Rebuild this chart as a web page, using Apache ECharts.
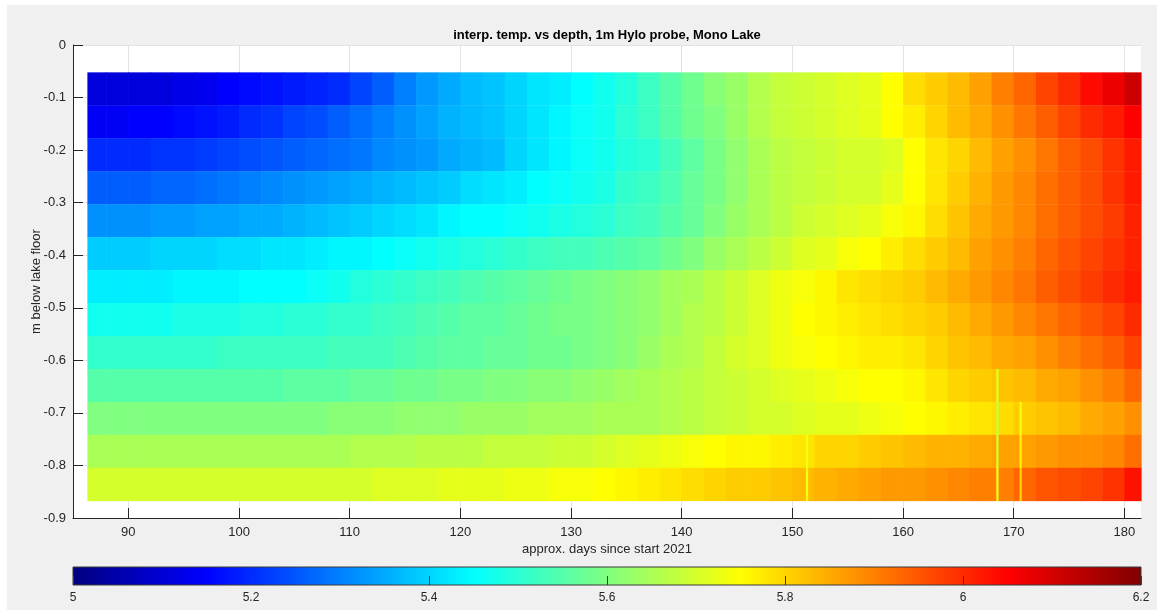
<!DOCTYPE html>
<html><head><meta charset="utf-8">
<script src="https://cdn.jsdelivr.net/npm/echarts@6/dist/echarts.min.js"></script>
<style>html,body{margin:0;padding:0;background:#fff}#c{width:1157px;height:610px}</style>
</head><body><div id="c"></div>
<script>
// ---- data ----
const days = [87,89,91,93,95,97,99,101,103,105,107,109,111,113,115,117,119,121,123,125,127,129,131,133,135,137,139,141,143,145,147,149,151,153,155,157,159,161,163,165,167,169,171,173,175,177,179,181];
const dataStart = 86.3, dataEnd = 181.5;
const depths = [-0.0834,-0.1461,-0.2088,-0.2715,-0.3342,-0.3969,-0.4596,-0.5223,-0.585,-0.6477,-0.7104,-0.7731,-0.8358];
const xTicks = [90,100,110,120,130,140,150,160,170,180];
const colorbarRange = [5, 6.2];

const row1 = [5.11,5.11,5.11,5.11,5.12,5.13,5.15,5.16,5.17,5.18,5.19,5.2, 5.23,5.26,5.3,5.33,5.35,5.37,5.38,5.4,5.42,5.43,5.45,5.47, 5.49,5.52,5.55,5.58,5.61,5.63,5.66,5.68,5.69,5.7,5.71,5.72, 5.75,5.79,5.81,5.83,5.86,5.9,5.93,5.97,6.0,6.04,6.07,6.11];
const row2 = [5.14,5.14,5.15,5.15,5.16,5.17,5.18,5.2,5.21,5.23,5.24,5.26, 5.28,5.3,5.32,5.34,5.36,5.37,5.38,5.4,5.42,5.44,5.46,5.47, 5.5,5.52,5.55,5.58,5.6,5.63,5.66,5.68,5.69,5.7,5.71,5.72, 5.75,5.77,5.8,5.83,5.85,5.88,5.91,5.94,5.97,6.0,6.02,6.05];
const row3 = [5.2,5.2,5.2,5.21,5.21,5.22,5.23,5.24,5.25,5.26,5.27,5.28, 5.29,5.31,5.32,5.33,5.35,5.36,5.37,5.4,5.42,5.44,5.46,5.47, 5.49,5.5,5.53,5.56,5.59,5.62,5.65,5.67,5.68,5.69,5.7,5.7, 5.71,5.75,5.78,5.8,5.83,5.86,5.88,5.91,5.94,5.96,5.99,6.02];
const row4 = [5.26,5.26,5.26,5.27,5.27,5.28,5.29,5.3,5.31,5.32,5.33,5.34, 5.35,5.36,5.37,5.38,5.39,5.41,5.42,5.43,5.45,5.46,5.47,5.48, 5.51,5.52,5.54,5.57,5.59,5.62,5.65,5.67,5.68,5.69,5.7,5.7, 5.72,5.75,5.78,5.81,5.84,5.87,5.89,5.92,5.94,5.96,5.99,6.02];
const row5 = [5.32,5.32,5.32,5.33,5.33,5.34,5.34,5.35,5.35,5.36,5.37,5.38, 5.39,5.4,5.41,5.42,5.44,5.45,5.45,5.46,5.47,5.48,5.49,5.5, 5.52,5.53,5.55,5.57,5.6,5.63,5.65,5.67,5.69,5.7,5.71,5.72, 5.74,5.76,5.79,5.82,5.85,5.87,5.89,5.92,5.94,5.96,5.98,6.01];
const row6 = [5.39,5.39,5.39,5.4,5.4,5.4,5.41,5.41,5.42,5.42,5.43,5.44, 5.44,5.45,5.46,5.47,5.48,5.49,5.5,5.51,5.52,5.53,5.53,5.54, 5.55,5.56,5.58,5.6,5.63,5.65,5.67,5.69,5.71,5.72,5.74,5.75, 5.77,5.79,5.81,5.83,5.86,5.88,5.9,5.93,5.95,5.97,5.99,6.01];
const row7 = [5.43,5.43,5.43,5.43,5.44,5.44,5.44,5.45,5.45,5.45,5.46,5.47, 5.49,5.5,5.51,5.52,5.53,5.54,5.55,5.56,5.57,5.58,5.59,5.6, 5.61,5.62,5.64,5.65,5.67,5.69,5.71,5.73,5.74,5.76,5.78,5.79, 5.8,5.81,5.83,5.85,5.87,5.89,5.91,5.94,5.96,5.98,6.0,6.02];
const row8 = [5.47,5.47,5.47,5.47,5.48,5.48,5.48,5.49,5.49,5.5,5.5,5.51, 5.51,5.52,5.53,5.54,5.55,5.56,5.56,5.57,5.58,5.59,5.59,5.6, 5.61,5.62,5.64,5.66,5.67,5.69,5.71,5.73,5.75,5.76,5.77,5.78, 5.79,5.8,5.81,5.83,5.85,5.87,5.89,5.91,5.93,5.95,5.97,6.0];
const row9 = [5.51,5.51,5.51,5.51,5.51,5.51,5.52,5.52,5.52,5.52,5.52,5.53, 5.53,5.53,5.54,5.55,5.56,5.56,5.57,5.57,5.58,5.58,5.59,5.6, 5.61,5.63,5.65,5.66,5.68,5.7,5.71,5.73,5.74,5.75,5.76,5.77, 5.77,5.78,5.8,5.82,5.83,5.85,5.86,5.88,5.9,5.92,5.94,5.97];
const row10 = [5.55,5.55,5.55,5.55,5.55,5.55,5.55,5.55,5.55,5.56,5.56,5.56, 5.57,5.57,5.58,5.58,5.59,5.59,5.6,5.6,5.61,5.61,5.62,5.63, 5.64,5.65,5.66,5.67,5.68,5.69,5.7,5.71,5.72,5.73,5.74,5.75, 5.75,5.76,5.78,5.8,5.81,5.82,5.83,5.85,5.86,5.88,5.9,5.93];
const row11 = [5.6,5.6,5.6,5.6,5.6,5.6,5.6,5.6,5.6,5.6,5.6,5.61, 5.61,5.61,5.62,5.62,5.62,5.63,5.63,5.63,5.64,5.64,5.64,5.65, 5.65,5.65,5.66,5.67,5.68,5.69,5.7,5.7,5.71,5.72,5.72,5.73, 5.74,5.75,5.76,5.77,5.78,5.79,5.81,5.82,5.83,5.85,5.86,5.88];
const row12 = [5.65,5.65,5.65,5.65,5.65,5.65,5.65,5.65,5.65,5.65,5.65,5.65, 5.66,5.66,5.66,5.67,5.67,5.67,5.68,5.68,5.68,5.69,5.69,5.7, 5.71,5.72,5.73,5.74,5.75,5.76,5.76,5.77,5.78,5.8,5.8,5.81, 5.82,5.83,5.84,5.84,5.85,5.86,5.86,5.87,5.88,5.88,5.89,5.92];
const row13 = [5.7,5.7,5.7,5.7,5.7,5.7,5.7,5.7,5.7,5.7,5.7,5.7, 5.7,5.71,5.71,5.71,5.72,5.72,5.72,5.73,5.73,5.74,5.74,5.75, 5.76,5.77,5.78,5.79,5.8,5.81,5.81,5.82,5.83,5.84,5.85,5.86, 5.87,5.87,5.88,5.89,5.9,5.9,5.93,5.95,5.96,5.97,5.99,6.03];
const rows = [row1,row2,row3,row4,row5,row6,row7,row8,row9,row10,row11,row12,row13];

// thin single-sample streaks: [day, row index, value]
const streaks = [[151.3,11,5.73],[151.3,12,5.74],[168.5,9,5.71],[168.5,10,5.68],[168.5,11,5.7],[168.5,12,5.73],[170.6,10,5.74],[170.6,11,5.77],[170.6,12,5.8]];
const streakWidth = 0.15;

const jetColors = ['#000080','#0000ff','#0080ff','#00ffff','#80ff80','#ffff00','#ff8000','#ff0000','#800000'];

// ---- build cells ----
const rowTop = [], rowBot = [];
for (let k = 0; k < depths.length; k++) {
  const up = k === 0 ? depths[0] + (depths[0] - depths[1]) / 2 : (depths[k - 1] + depths[k]) / 2;
  const dn = k === depths.length - 1 ? depths[k] + (depths[k] - depths[k - 1]) / 2 : (depths[k] + depths[k + 1]) / 2;
  rowTop.push(up); rowBot.push(dn);
}
const cells = [];
rows.forEach((vals, k) => {
  vals.forEach((v, i) => {
    const x0 = i === 0 ? dataStart : (days[i - 1] + days[i]) / 2;
    const x1 = i === days.length - 1 ? dataEnd : (days[i] + days[i + 1]) / 2;
    cells.push([x0, x1, rowBot[k], rowTop[k], v]);
  });
});
streaks.forEach(s => {
  cells.push([s[0] - streakWidth / 2, s[0] + streakWidth / 2, rowBot[s[1]], rowTop[s[1]], s[2]]);
});

const FONT = '"Liberation Sans", Arial, Helvetica, sans-serif';
const AX = '#262626';

function renderCell(params, api) {
  const a = api.coord([api.value(0), api.value(3)]);
  const b = api.coord([api.value(1), api.value(2)]);
  return { type: 'rect', shape: { x: a[0], y: a[1], width: b[0] - a[0] + 0.6, height: b[1] - a[1] + 0.4 },
    style: { fill: api.visual('color') } };
}
function renderBar(params, api) {
  const a = api.coord([api.value(0), 1]);
  const b = api.coord([api.value(1), 0]);
  const stops = jetColors.map((c, i) => ({ offset: i / (jetColors.length - 1), color: c }));
  return { type: 'rect', shape: { x: a[0], y: a[1], width: b[0] - a[0], height: b[1] - a[1] },
    style: { fill: new echarts.graphic.LinearGradient(0, 0, 1, 0, stops), stroke: '#3a3a3a', lineWidth: 1 } };
}

const chart = echarts.init(document.getElementById('c'), null, { renderer: 'canvas' });
chart.setOption({
  animation: false,
  backgroundColor: '#f0f0f0',
  textStyle: { fontFamily: FONT },
  graphic: [
    { type: 'rect', shape: { x: 0, y: 0, width: 1157, height: 5 }, style: { fill: '#ffffff' }, silent: true },
    { type: 'rect', shape: { x: 0, y: 0, width: 7, height: 610 }, style: { fill: '#ffffff' }, silent: true },
    { type: 'text', x: 607, y: 35, style: { text: 'interp. temp. vs depth, 1m Hylo probe, Mono Lake',
      font: 'bold 13px ' + FONT, fill: '#000000', align: 'center', verticalAlign: 'middle' } }
  ],
  grid: [
    { left: 73, top: 45, width: 1068, height: 473, show: true, backgroundColor: '#ffffff', borderWidth: 0 },
    { left: 73, top: 567, width: 1068, height: 18, show: false }
  ],
  xAxis: [
    { type: 'value', gridIndex: 0, min: 85, max: 181.5,
      axisLine: { show: true, onZero: false, lineStyle: { color: AX, width: 1 } },
      axisTick: { show: true, inside: true, length: 10, customValues: xTicks, lineStyle: { color: AX } },
      axisLabel: { customValues: xTicks, color: AX, fontSize: 13, margin: 8, fontFamily: FONT },
      splitLine: { show: true, lineStyle: { color: '#e2e2e2', width: 1 } },
      name: 'approx. days since start 2021', nameLocation: 'middle', nameGap: 25, nameMoveOverlap: false,
      nameTextStyle: { color: AX, fontSize: 13, fontFamily: FONT } },
    { type: 'value', gridIndex: 1, min: colorbarRange[0], max: colorbarRange[1], interval: 0.2, z: 5,
      axisLine: { show: false },
      axisTick: { show: true, inside: true, length: 9, lineStyle: { color: '#3a3a3a' } },
      axisLabel: { color: AX, fontSize: 12, margin: 7, fontFamily: FONT },
      splitLine: { show: false } }
  ],
  yAxis: [
    { type: 'value', gridIndex: 0, min: -0.9, max: 0, interval: 0.1,
      axisLine: { show: true, onZero: false, lineStyle: { color: AX, width: 1 } },
      axisTick: { show: true, inside: true, length: 10, lineStyle: { color: AX } },
      axisLabel: { color: AX, fontSize: 13, margin: 7, fontFamily: FONT,
        formatter: v => (Math.abs(v) < 1e-9 ? '0' : v.toFixed(1)) },
      splitLine: { show: true, lineStyle: { color: '#e2e2e2', width: 1 } },
      name: 'm below lake floor', nameLocation: 'middle', nameGap: 30, nameRotate: 90, nameMoveOverlap: false,
      nameTextStyle: { color: AX, fontSize: 13, fontFamily: FONT } },
    { type: 'value', gridIndex: 1, min: 0, max: 1, show: false }
  ],
  visualMap: { type: 'continuous', show: false, min: colorbarRange[0], max: colorbarRange[1],
    dimension: 4, seriesIndex: 0, inRange: { color: jetColors } },
  series: [
    { type: 'custom', xAxisIndex: 0, yAxisIndex: 0, renderItem: renderCell, data: cells,
      encode: { x: [0, 1], y: [2, 3] }, silent: true },
    { type: 'custom', xAxisIndex: 1, yAxisIndex: 1, renderItem: renderBar, data: [colorbarRange],
      encode: { x: [0, 1] }, silent: true }
  ]
});
</script></body></html>
